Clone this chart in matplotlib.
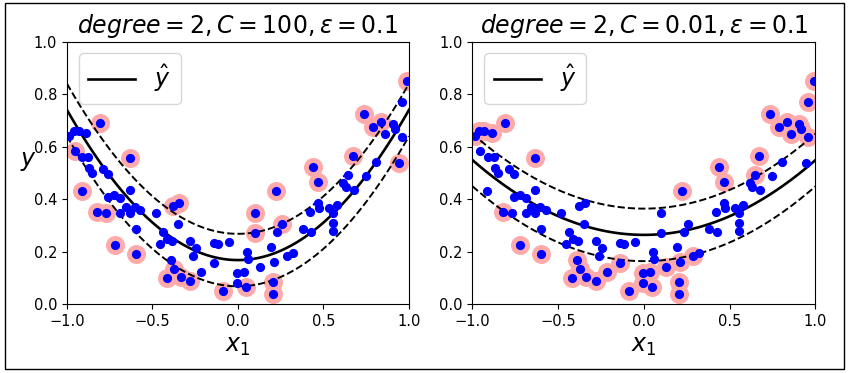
import numpy as np
import matplotlib
matplotlib.use("Agg")
import matplotlib.pyplot as plt
from matplotlib.patches import Rectangle

# training points (same set in both panels)
x_pts = [-0.809, -0.988, -0.961, -0.930, -0.886, -0.955, -0.910, -0.877, -0.871, -0.853,
         -0.633, -0.789, -0.760, -0.914, -0.633, -0.760, -0.725, -0.688, -0.824, -0.769,
         -0.688, -0.656, -0.633, -0.604, -0.574, -0.481, -0.379, -0.344, -0.350, -0.598,
         -0.438, -0.721, -0.598, -0.457, -0.414, -0.383, -0.278, -0.247, -0.262, -0.389,
         -0.374, -0.418, -0.336, -0.282, -0.217, -0.141, -0.116, -0.052, -0.141, -0.087,
         -0.005, 0.034, -0.005, 0.046, 0.051, 0.057, 0.130, 0.097, 0.100, 0.222,
         0.194, 0.212, 0.204, 0.204, 0.257, 0.231, 0.286, 0.321, 0.378, 0.426,
         0.420, 0.469, 0.475, 0.436, 0.469, 0.532, 0.577, 0.557, 0.553, 0.557,
         0.616, 0.631, 0.678, 0.645, 0.670, 0.746, 0.805, 0.737, 0.787, 0.834,
         0.859, 0.904, 0.918, 0.957, 0.943, 0.957, 0.990]
y_pts = [0.691, 0.642, 0.660, 0.660, 0.651, 0.584, 0.562, 0.560, 0.518, 0.501,
         0.556, 0.514, 0.496, 0.432, 0.435, 0.407, 0.416, 0.403, 0.350, 0.349,
         0.346, 0.371, 0.349, 0.371, 0.359, 0.349, 0.375, 0.384, 0.306, 0.285,
         0.275, 0.226, 0.191, 0.228, 0.247, 0.242, 0.241, 0.215, 0.185, 0.168,
         0.134, 0.099, 0.105, 0.090, 0.124, 0.232, 0.229, 0.237, 0.158, 0.051,
         0.120, 0.124, 0.080, 0.064, 0.200, 0.172, 0.143, 0.346, 0.272, 0.432,
         0.219, 0.160, 0.083, 0.040, 0.304, 0.276, 0.185, 0.194, 0.285, 0.276,
         0.352, 0.387, 0.365, 0.524, 0.467, 0.365, 0.378, 0.346, 0.310, 0.279,
         0.461, 0.448, 0.435, 0.492, 0.565, 0.490, 0.541, 0.725, 0.674, 0.695,
         0.648, 0.686, 0.666, 0.636, 0.537, 0.769, 0.851]

# support vectors (highlighted points) of each model
sv_c100 = [0, 5, 10, 13, 18, 19, 26, 27, 31, 32, 40, 41, 42, 43, 49, 53, 57, 58, 59,
           62, 63, 64, 73, 74, 84, 87, 88, 89, 94, 96]
sv_c001 = [0, 1, 2, 3, 4, 10, 18, 31, 32, 39, 40, 41, 42, 43, 44, 48, 49, 50, 51, 52,
           53, 56, 59, 61, 62, 63, 66, 73, 74, 83, 84, 87, 88, 89, 90, 91, 92, 93, 95, 96]

# fitted quadratic models (c0 + c1*x + c2*x^2)
coef_c100 = [0.168, 0.0, 0.572]
coef_c001 = [0.264, 0.0, 0.285]
epsilon = 0.1

titles = [r"$degree=2, C=100, \epsilon = 0.1$", r"$degree=2, C=0.01, \epsilon = 0.1$"]
xticks = [-1.0, -0.5, 0.0, 0.5, 1.0]

X = np.array(x_pts)
y = np.array(y_pts)

fig = plt.figure(figsize=(8.49, 3.73), dpi=100)
fig.patches.append(Rectangle((0.006, 0.012), 0.988, 0.98, transform=fig.transFigure,
                             fill=False, edgecolor="black", linewidth=1))

positions = [[0.0789, 0.1845, 0.4028, 0.7038], [0.5565, 0.1845, 0.4040, 0.7038]]


def plot_svm_regression(ax, coef, sv, title):
    x1s = np.linspace(-1, 1, 100)
    y_pred = np.polyval(coef[::-1], x1s)
    ax.plot(x1s, y_pred, "k-", linewidth=1.9, label=r"$\hat{y}$")
    ax.plot(x1s, y_pred + epsilon, "k--", linewidth=1.4)
    ax.plot(x1s, y_pred - epsilon, "k--", linewidth=1.4)
    ax.scatter(X[sv], y[sv], s=160, facecolors="#FFAAAA")
    ax.plot(X, y, "bo", markersize=5.6)
    ax.set_xlabel(r"$x_1$", fontsize=17)
    ax.legend(loc="upper left", fontsize=17)
    ax.axis([-1, 1, 0, 1])
    ax.set_xticks(xticks)
    ax.set_title(title, fontsize=17)
    ax.tick_params(labelsize=10.5)


ax1 = fig.add_axes(positions[0])
plot_svm_regression(ax1, coef_c100, sv_c100, titles[0])
ax1.set_ylabel(r"$y$", fontsize=17, rotation=0)

ax2 = fig.add_axes(positions[1])
plot_svm_regression(ax2, coef_c001, sv_c001, titles[1])

fig.savefig("out.png", dpi=100)
